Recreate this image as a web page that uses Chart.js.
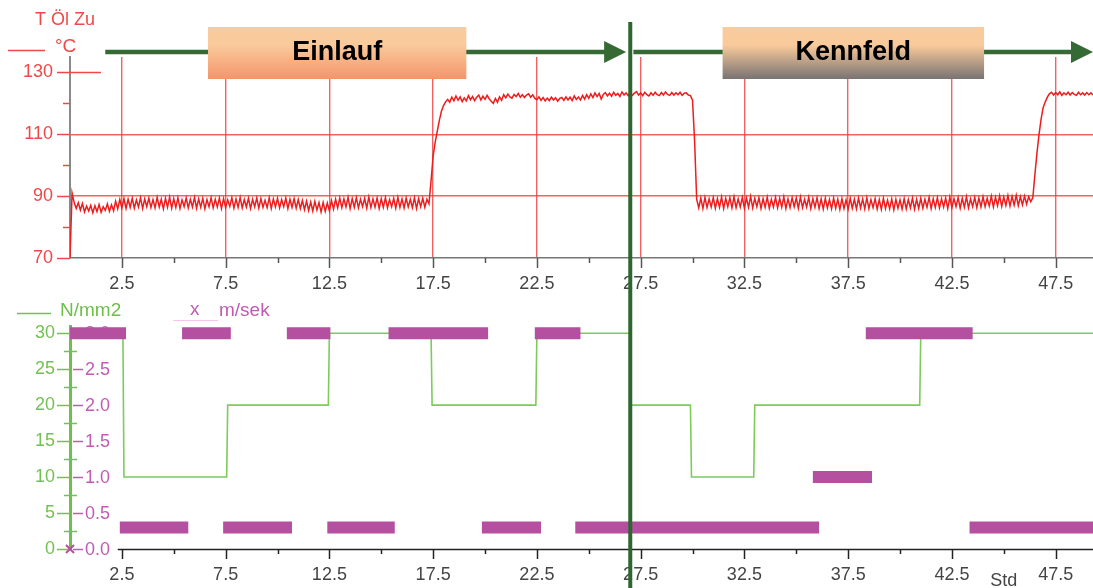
<!DOCTYPE html>
<html><head><meta charset="utf-8">
<script src="https://cdn.jsdelivr.net/npm/chart.js@4"></script>
<style>
html,body{margin:0;padding:0;background:#fff;overflow:hidden}
#wrap{position:relative;width:1093px;height:588px}
canvas{position:absolute;left:0}
#top{top:0}
#bot{top:296px}
</style></head><body>
<div id="wrap"><canvas id="top" width="1093" height="296"></canvas><canvas id="bot" width="1093" height="292"></canvas></div>
<script>
// ---------- data ----------
const tempStep = 0.1; // hours between oil temperature samples (T Öl Zu, °C)
const oilTemp = [
70,91.0,88.0,86.0,87.9,85.5,87.6,84.9,86.8,85.2,
87.0,84.6,86.9,85.0,87.3,84.8,86.6,85.4,87.5,85.1,
87.2,85.3,88.4,85.9,88.9,86.2,89.2,86.0,89.0,86.4,
89.3,86.1,88.8,86.5,89.5,86.0,89.1,86.6,89.4,86.3,
88.9,86.2,89.6,86.5,89.0,85.9,89.3,86.4,89.7,86.1,
89.2,86.3,89.5,86.0,88.8,86.6,89.4,86.2,89.0,86.5,
89.6,86.1,89.1,86.4,89.3,85.9,88.9,86.6,89.5,86.2,
89.0,86.5,89.4,86.0,89.2,86.3,88.8,86.7,89.5,86.1,
89.1,86.4,89.6,86.2,88.9,86.5,89.3,86.0,89.0,86.6,
89.4,86.1,89.2,86.4,88.7,86.3,89.5,86.0,89.1,86.5,
89.3,86.2,88.9,86.6,89.4,86.0,89.0,86.4,89.2,86.1,
88.9,86.0,88.6,85.6,88.4,85.4,88.1,85.2,88.3,85.5,
87.9,84.9,88.0,85.1,87.8,85.3,88.6,85.8,89.0,86.2,
89.4,86.3,89.1,86.5,89.6,86.0,89.2,86.4,89.5,86.2,
89.0,86.6,89.3,86.1,89.7,86.3,89.1,86.5,89.4,86.0,
89.2,86.4,89.5,86.2,88.9,86.6,89.3,86.1,89.6,86.4,
89.1,86.2,89.4,86.5,89.0,86.3,89.5,86.0,89.2,86.6,
89.3,86.4,89.0,87.5,95.0,103.0,107.5,111.0,114.5,117.5,
119.3,120.5,121.3,120.4,122.0,120.8,122.4,121.0,122.1,120.6,
121.8,120.8,122.5,121.2,122.2,120.9,122.0,122.7,121.1,122.3,
121.3,122.6,121.5,120.7,120.0,121.6,120.4,122.1,121.0,122.8,
121.8,123.0,122.1,121.7,122.9,122.2,123.2,122.0,122.8,121.9,
122.7,123.1,122.0,122.8,121.6,121.2,122.1,121.0,121.9,120.8,
121.7,120.9,122.0,121.1,121.8,120.7,121.6,121.9,121.0,122.1,
121.1,122.0,120.9,122.4,121.3,122.1,121.1,122.6,121.4,122.8,
121.6,123.1,121.9,123.4,122.2,123.2,121.4,122.9,123.5,122.4,
123.3,122.3,123.6,122.6,123.2,122.2,123.7,122.7,123.4,122.5,
123.5,122.6,123.3,123.8,122.7,123.4,122.5,123.6,122.8,122.4,
123.4,122.6,123.6,122.8,122.5,123.5,122.7,123.7,122.9,122.6,
123.5,122.7,123.4,122.8,123.6,122.6,123.3,123.4,122.7,122.5,
121.0,108.0,89.0,86.2,89.4,86.0,89.6,86.3,89.1,86.5,
89.5,86.1,89.2,86.4,89.7,86.0,89.3,86.6,89.5,86.2,
89.8,86.3,89.1,86.5,89.6,86.1,89.4,86.4,89.9,86.2,
89.3,86.6,89.5,86.0,89.2,86.4,89.7,86.1,89.0,86.5,
89.6,86.2,89.3,86.4,89.8,86.0,89.1,86.3,89.5,86.6,
89.4,86.1,89.7,86.3,89.0,86.5,89.6,86.0,89.2,86.4,
89.5,86.0,89.1,85.8,89.3,86.2,88.9,85.9,89.4,86.1,
89.0,85.7,89.2,86.0,88.8,85.8,89.3,86.1,89.0,85.9,
89.4,86.2,89.1,85.9,89.5,86.0,88.9,86.3,89.2,85.8,
88.9,85.7,89.3,86.0,88.7,85.9,89.1,85.6,89.0,86.1,
88.8,85.8,89.2,85.9,88.9,86.2,89.4,85.8,89.0,86.0,
89.3,86.1,89.0,86.4,89.6,86.0,89.2,86.3,89.5,86.2,
89.1,86.5,89.4,86.0,89.7,86.3,89.2,86.6,89.5,86.1,
89.3,86.4,89.8,86.2,89.1,86.6,89.6,86.3,89.4,86.5,
89.8,86.6,89.3,86.8,90.0,86.5,89.6,86.9,90.1,86.7,
89.7,87.0,90.2,86.8,89.9,87.1,90.3,86.9,89.8,87.2,
90.0,87.4,89.8,88.2,89.5,97.0,104.0,110.0,115.0,118.7,
120.5,122.0,123.1,123.6,122.7,123.5,122.8,123.7,122.6,123.4,
122.8,123.6,122.7,123.5,122.9,122.6,123.6,122.8,123.4,122.7,
123.5,122.8,123.4,122.7
];
const tempTicks = [70, 90, 110, 130];
const tempMinorTicks = [80, 100, 120];
const hourTicks = [2.5, 7.5, 12.5, 17.5, 22.5, 27.5, 32.5, 37.5, 42.5, 47.5];
const hourMinorTicks = [5, 10, 15, 20, 25, 30, 35, 40, 45];

// N/mm2 (step profile)
const stressHours  = [0, 2.55, 2.6, 7.55, 7.6, 12.45, 12.5, 17.4, 17.45, 22.45, 22.5, 27.0, 27.05, 29.9, 29.95, 32.95, 33.0, 40.95, 41.0, 49.3];
const stressValues = [30, 30, 10, 10, 20, 20, 30, 30, 20, 20, 30, 30, 20, 20, 10, 10, 20, 20, 30, 30];
const stressTicks = [0, 5, 10, 15, 20, 25, 30];
const stressMinorTicks = [2.5, 7.5, 12.5, 17.5, 22.5, 27.5];

// m/sek (constant-speed intervals)
const speedStart = [0, 2.4, 5.4, 7.38, 10.45, 12.4, 15.35, 19.85, 22.4, 24.35, 35.8, 38.35, 43.35];
const speedEnd   = [2.7, 5.7, 7.75, 10.7, 12.55, 15.65, 20.15, 22.7, 24.6, 36.1, 38.65, 43.5, 49.3];
const speedLevel = [3.0, 0.3, 3.0, 0.3, 3.0, 0.3, 3.0, 0.3, 3.0, 0.3, 1.0, 3.0, 0.3];
const speedTicks = [0, 0.5, 1.0, 1.5, 2.0, 2.5, 3.0];

const phaseNames = ['Einlauf', 'Kennfeld'];
const phaseBoundary = 27.0;

// ---------- annotation layout (data units on x) ----------
const annot = {
  arrows: [{from: 1.7, to: 26.8}, {from: 27.15, to: 49.3}],
  boxes: [{from: 6.65, to: 19.1, top: '#f9ca9b', bottom: '#f5946a'},
          {from: 31.45, to: 44.05, top: '#f9ca9b', bottom: '#787372'}]
};

const FONT = '"Liberation Sans", Arial, Helvetica, sans-serif';
Chart.defaults.font.family = FONT;
const RED = '#f04848', GREEN = '#74c153', PINK = '#b4509f', PINKTXT = '#c25bb3', DARKG = '#2f662f';

function hline(ctx, x1, x2, y) { ctx.beginPath(); ctx.moveTo(x1, y); ctx.lineTo(x2, y); ctx.stroke(); }
function vline(ctx, x, y1, y2) { ctx.beginPath(); ctx.moveTo(x, y1); ctx.lineTo(x, y2); ctx.stroke(); }

const topDecor = {
  id: 'topDecor',
  afterDraw(chart) {
    const {ctx, chartArea: a, scales: {x, y}} = chart;
    ctx.save();
    ctx.strokeStyle = RED; ctx.lineWidth = 1.5;
    tempTicks.forEach(v => { const py = Math.round(y.getPixelForValue(v)) + 0.5; hline(ctx, 57, v === 130 ? 101 : a.left, py); });
    tempMinorTicks.forEach(v => { const py = Math.round(y.getPixelForValue(v)) + 0.5; hline(ctx, 63, a.left, py); });
    ctx.strokeStyle = '#555'; ctx.lineWidth = 1.5;
    hourTicks.forEach(v => vline(ctx, Math.round(x.getPixelForValue(v)) + 0.5, a.bottom, a.bottom + 10));
    hourMinorTicks.forEach(v => vline(ctx, Math.round(x.getPixelForValue(v)) + 0.5, a.bottom, a.bottom + 5));
    ctx.fillStyle = RED; ctx.font = '18px ' + FONT; ctx.textBaseline = 'middle'; ctx.textAlign = 'left';
    ctx.fillText('T Öl Zu', 35, 20);
    ctx.font = '19px ' + FONT;
    ctx.fillText('°C', 55, 47);
    ctx.strokeStyle = RED; ctx.lineWidth = 1.5; hline(ctx, 8, 45, 50.5);
    const ay = 52;
    ctx.strokeStyle = '#356a35'; ctx.fillStyle = '#356a35'; ctx.lineWidth = 4.5;
    annot.arrows.forEach(ar => {
      const x1 = x.getPixelForValue(ar.from), x2 = x.getPixelForValue(ar.to);
      hline(ctx, x1, x2 - 20, ay);
      ctx.beginPath(); ctx.moveTo(x2 - 22, ay - 11); ctx.lineTo(x2, ay); ctx.lineTo(x2 - 22, ay + 11); ctx.closePath(); ctx.fill();
    });
    annot.boxes.forEach((b, i) => {
      const x1 = x.getPixelForValue(b.from), x2 = x.getPixelForValue(b.to);
      const t = 27, h = 52;
      const g = ctx.createLinearGradient(0, t, 0, t + h);
      g.addColorStop(0, b.top); g.addColorStop(0.35, b.top); g.addColorStop(1, b.bottom);
      ctx.fillStyle = g; ctx.fillRect(x1, t, x2 - x1, h);
      ctx.fillStyle = '#000'; ctx.font = 'bold 27px ' + FONT; ctx.textAlign = 'center'; ctx.textBaseline = 'middle';
      ctx.fillText(phaseNames[i], (x1 + x2) / 2, t + 26);
    });
    ctx.strokeStyle = DARKG; ctx.lineWidth = 4;
    vline(ctx, x.getPixelForValue(phaseBoundary), 22, chart.height);
    ctx.restore();
  }
};

const botDecor = {
  id: 'botDecor',
  beforeDatasetsDraw(chart) {
    const {ctx, chartArea: a, scales: {x, y, y2}} = chart;
    ctx.save();
    ctx.lineWidth = 1.5;
    ctx.strokeStyle = GREEN;
    stressTicks.forEach(v => hline(ctx, 57, a.left, Math.round(y.getPixelForValue(v)) + 0.5));
    stressMinorTicks.forEach(v => hline(ctx, 64, a.left + 7, Math.round(y.getPixelForValue(v)) + 0.5));
    ctx.strokeStyle = PINKTXT; ctx.fillStyle = PINKTXT; ctx.font = '18px ' + FONT;
    ctx.textAlign = 'left'; ctx.textBaseline = 'middle';
    speedTicks.forEach(v => {
      const py = Math.round(y2.getPixelForValue(v)) + 0.5;
      hline(ctx, a.left + 3, a.left + 13, py);
      ctx.fillText(v.toFixed(1), a.left + 15, py + 1);
    });
    ctx.strokeStyle = '#222';
    hline(ctx, x.getPixelForValue(2.3), a.right, a.bottom + 0.5);
    hourTicks.forEach(v => vline(ctx, Math.round(x.getPixelForValue(v)) + 0.5, a.bottom, a.bottom + 10));
    hourMinorTicks.forEach(v => vline(ctx, Math.round(x.getPixelForValue(v)) + 0.5, a.bottom, a.bottom + 5));
    ctx.fillStyle = '#444'; ctx.textAlign = 'center';
    ctx.fillText('Std', x.getPixelForValue(45), a.bottom + 32);
    ctx.font = '19px ' + FONT; ctx.textAlign = 'left';
    ctx.strokeStyle = GREEN; hline(ctx, 17, 51, 17.5);
    ctx.fillStyle = '#6cbf4a'; ctx.fillText('N/mm2', 60, 15);
    ctx.strokeStyle = '#f1c6e6'; ctx.lineWidth = 1; hline(ctx, 173, 218, 24.5);
    ctx.fillStyle = PINKTXT; ctx.fillText('x', 190, 14); ctx.fillText('m/sek', 219, 15);
    ctx.restore();
  },
  afterDatasetsDraw(chart) {
    const {ctx, scales: {x, y2}} = chart;
    ctx.save();
    // origin marker of the m/sek series
    ctx.strokeStyle = PINK; ctx.lineWidth = 2;
    const ox = x.getPixelForValue(0), oy = y2.getPixelForValue(0);
    ctx.beginPath(); ctx.moveTo(ox - 4, oy - 4); ctx.lineTo(ox + 4, oy + 4); ctx.moveTo(ox - 4, oy + 4); ctx.lineTo(ox + 4, oy - 4); ctx.stroke();
    ctx.strokeStyle = DARKG; ctx.lineWidth = 4;
    vline(ctx, x.getPixelForValue(phaseBoundary), 0, chart.height);
    ctx.restore();
  }
};

const tempPoints = oilTemp.map((v, i) => ({x: Math.round(i * tempStep * 100) / 100, y: v}));
const stressPoints = stressHours.map((h, i) => ({x: h, y: stressValues[i]}));
const speedPoints = [];
speedStart.forEach((s, i) => {
  speedPoints.push({x: s, y: speedLevel[i]}, {x: speedEnd[i], y: speedLevel[i]}, {x: speedEnd[i] + 0.001, y: null});
});

const common = {responsive: false, animation: false, devicePixelRatio: 1, events: [],
  plugins: {legend: {display: false}, tooltip: {enabled: false}}};

new Chart(document.getElementById('top'), {
  type: 'line',
  data: {datasets: [{data: tempPoints, borderColor: '#ee1c1c', borderWidth: 1.5, pointRadius: 0, tension: 0}]},
  options: Object.assign({}, common, {
    layout: {padding: {top: 57, left: 0, right: 0, bottom: 0}},
    scales: {
      x: {type: 'linear', min: 0, max: 49.3,
        afterBuildTicks: s => { s.ticks = hourTicks.concat(hourMinorTicks).sort((a, b) => a - b).map(v => ({value: v})); },
        afterFit: s => { s.height = 38; },
        ticks: {autoSkip: false, maxRotation: 0, padding: 15, color: '#444', font: {size: 18},
          callback: v => hourTicks.includes(v) ? String(v) : ''},
        grid: {drawTicks: false, lineWidth: 1.4,
          color: c => (c.tick && hourTicks.includes(c.tick.value)) ? 'rgba(238,60,60,0.8)' : 'rgba(0,0,0,0)'},
        border: {color: '#777', width: 1.5}},
      y: {min: 70, max: 135,
        afterBuildTicks: s => { s.ticks = tempTicks.concat(tempMinorTicks).sort((a, b) => a - b).map(v => ({value: v})); },
        afterFit: s => { s.width = 70; },
        ticks: {padding: 17, color: RED, font: {size: 18}, callback: v => tempTicks.includes(v) ? String(v) : ''},
        grid: {drawTicks: false, lineWidth: 1.4,
          color: c => (c.tick && (c.tick.value === 90 || c.tick.value === 110)) ? 'rgba(238,60,60,0.8)' : 'rgba(0,0,0,0)'},
        border: {color: '#8a8a8a', width: 2}}
    }
  }),
  plugins: [topDecor]
});

new Chart(document.getElementById('bot'), {
  type: 'line',
  data: {datasets: [
    {data: speedPoints, yAxisID: 'y2', borderColor: PINK, borderWidth: 12, borderCapStyle: 'butt', pointRadius: 0, spanGaps: false, tension: 0, clip: false},
    {data: stressPoints, yAxisID: 'y', borderColor: '#7ccb5c', borderWidth: 1.6, pointRadius: 0, tension: 0}
  ]},
  options: Object.assign({}, common, {
    layout: {padding: {top: 30, left: 0, right: 0, bottom: 0}},
    scales: {
      x: {type: 'linear', min: 0, max: 49.3,
        afterBuildTicks: s => { s.ticks = hourTicks.map(v => ({value: v})); },
        afterFit: s => { s.height = 39; },
        ticks: {autoSkip: false, maxRotation: 0, padding: 15, color: '#444', font: {size: 18}, callback: v => String(v)},
        grid: {display: false, drawTicks: false},
        border: {display: false}},
      y: {min: 0, max: 31,
        afterBuildTicks: s => { s.ticks = stressTicks.map(v => ({value: v})); },
        afterFit: s => { s.width = 70; },
        ticks: {padding: 15, color: GREEN, font: {size: 18}},
        grid: {drawOnChartArea: false, drawTicks: false},
        border: {color: '#6ec04c', width: 3}},
      y2: {min: 0, max: 3.1, display: false}
    }
  }),
  plugins: [botDecor]
});
</script>
</body></html>
